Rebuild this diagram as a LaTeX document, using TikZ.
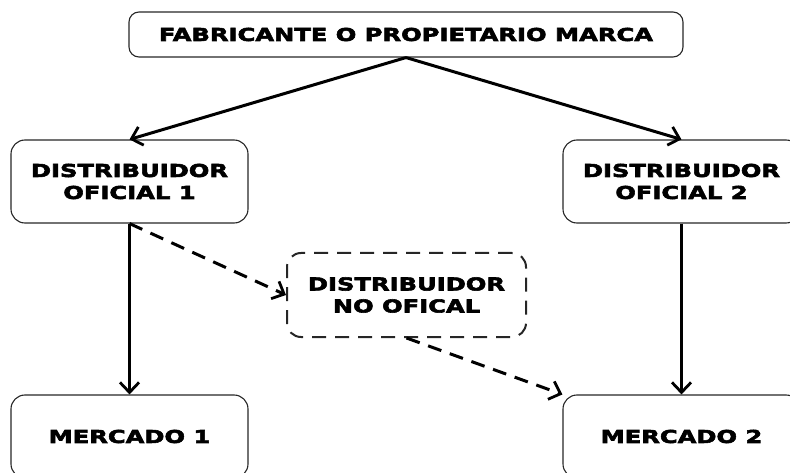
\documentclass[tikz,border=0pt]{standalone}
\usepackage{fontspec}
\newfontfamily\boxfont{DejaVu Sans}[FakeStretch=1.36,BoldFeatures={FakeBold=3.2}]
\usetikzlibrary{arrows.meta}
\begin{document}
\begin{tikzpicture}[x=1pt,y=-1pt,
    caja/.style={draw=black!85, line width=1.1pt, rounded corners=14pt, align=center,
        font=\boxfont\bfseries\fontsize{17.8}{22}\selectfont, inner sep=0pt},
    flecha/.style={line width=3pt, -{Straight Barb[length=10pt,width=19pt,line width=2.8pt]}},
    discont/.style={dash pattern=on 14pt off 9pt}]
    \useasboundingbox (0,0) rectangle (790,473);
    \node[caja, rounded corners=10pt, minimum width=554pt, minimum height=45pt] (fab) at (406,34.5) {FABRICANTE O PROPIETARIO MARCA};
    \node[caja, minimum width=237pt, minimum height=83pt] (do1) at (129.5,181.5) {DISTRIBUIDOR\\OFICIAL 1};
    \node[caja, minimum width=237pt, minimum height=83pt] (do2) at (681.5,181.5) {DISTRIBUIDOR\\OFICIAL 2};
    \node[caja, discont, line width=2pt, minimum width=239pt, minimum height=84pt] (dno) at (406.5,295) {DISTRIBUIDOR\\NO OFICAL};
    \node[caja, minimum width=237pt, minimum height=83pt] (m1) at (129.5,436.5) {MERCADO 1};
    \node[caja, minimum width=237pt, minimum height=83pt] (m2) at (681.5,436.5) {MERCADO 2};
    \draw[flecha] (fab.south) -- (do1.north);
    \draw[flecha] (fab.south) -- (do2.north);
    \draw[flecha] (do1.south) -- (m1.north);
    \draw[flecha] (do2.south) -- (m2.north);
    \draw[flecha, discont] (do1.south) -- (dno.west);
    \draw[flecha, discont] (dno.south) -- (m2.north west);
\end{tikzpicture}
\end{document}
